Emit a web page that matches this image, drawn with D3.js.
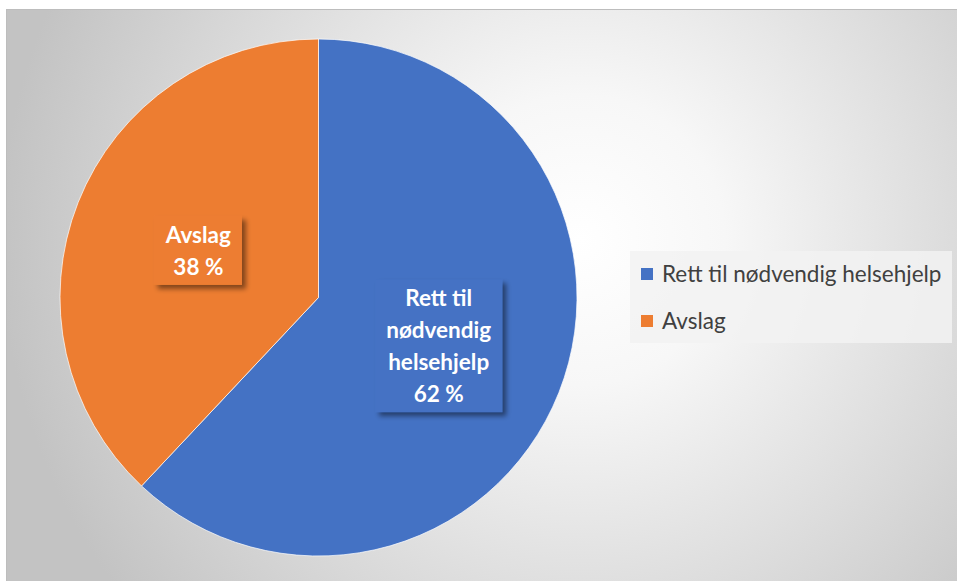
<!DOCTYPE html>
<html>
<head>
<meta charset="utf-8">
<script src="https://cdn.jsdelivr.net/npm/d3@7"></script>
<style>
  html, body { margin: 0; padding: 0; background: #ffffff; }
  svg { display: block; }
</style>
</head>
<body>
<svg id="chart" width="957" height="581"></svg>
<script>
const categories = ["Rett til nødvendig helsehjelp", "Avslag"];
const labelLines = [["Rett til", "nødvendig", "helsehjelp"], ["Avslag"]];
const values = [62, 38];
const colors = ["#4472C4", "#ED7D31"];

const W = 957, H = 581;
const svg = d3.select("#chart");
const defs = svg.append("defs");

const grad = defs.append("radialGradient")
  .attr("id", "bg").attr("gradientUnits", "userSpaceOnUse")
  .attr("cx", 580).attr("cy", 240).attr("r", 580);
grad.append("stop").attr("offset", "0").attr("stop-color", "#ffffff");
grad.append("stop").attr("offset", "0.25").attr("stop-color", "#f7f7f7");
grad.append("stop").attr("offset", "1").attr("stop-color", "#c3c3c3");

const shadow = defs.append("filter").attr("id", "shadow")
  .attr("x", "-20%").attr("y", "-20%").attr("width", "150%").attr("height", "150%");
shadow.append("feDropShadow").attr("dx", 4).attr("dy", 4).attr("stdDeviation", 2.5)
  .attr("flood-color", "#000").attr("flood-opacity", 0.45);

// chart area
svg.append("rect").attr("x", 6).attr("y", 9).attr("width", W - 6).attr("height", H - 9)
  .attr("fill", "url(#bg)");
svg.append("line").attr("x1", 6).attr("x2", W).attr("y1", 9.5).attr("y2", 9.5)
  .attr("stroke", "#bdbdbd").attr("stroke-width", 1);
svg.append("line").attr("x1", 6.5).attr("x2", 6.5).attr("y1", 9).attr("y2", H)
  .attr("stroke", "#bdbdbd").attr("stroke-width", 1);

const cx = 318.5, cy = 297.5, R = 258.5;
const pie = d3.pie().sort(null).value(d => d);
const arcs = pie(values);
const arc = d3.arc().innerRadius(0).outerRadius(R);

const g = svg.append("g").attr("transform", `translate(${cx},${cy})`);
g.selectAll("path.slice").data(arcs).join("path")
  .attr("class", "slice")
  .attr("d", arc)
  .attr("fill", (d, i) => colors[i])
  .attr("stroke", "#ffffff").attr("stroke-width", 0.7);

// data labels
const font = "Lato, 'Open Sans', sans-serif";
const lineH = 32;
arcs.forEach((d, i) => {
  const [lx, ly] = arc.centroid(d);
  const lines = labelLines[i].concat([d3.format("d")(values[i]) + " %"]);
  const lg = g.append("g").attr("transform", `translate(${lx},${ly})`);
  const txt = lg.append("text")
    .attr("text-anchor", "middle")
    .attr("fill", "#ffffff")
    .attr("font-family", font)
    .attr("font-weight", "bold")
    .attr("font-size", 22.5);
  const n = lines.length;
  lines.forEach((t, k) => {
    txt.append("tspan").attr("x", 0)
      .attr("y", (k - (n - 1) / 2) * lineH + 9)
      .text(t);
  });
  const bb = txt.node().getBBox();
  const padX = 11, padY = 5;
  lg.insert("rect", "text")
    .attr("x", bb.x - padX).attr("y", bb.y - padY)
    .attr("width", bb.width + 2 * padX).attr("height", bb.height + 2 * padY)
    .attr("fill", colors[i])
    .attr("filter", "url(#shadow)");
});

// legend
const legend = svg.append("g");
legend.append("rect").attr("x", 630).attr("y", 251).attr("width", 322).attr("height", 92)
  .attr("fill", "#f2f2f2").attr("fill-opacity", 0.85);
const legendY = d3.scalePoint().domain(categories).range([274, 321]);
categories.forEach((c, i) => {
  const y = legendY(c);
  legend.append("rect").attr("x", 641).attr("y", y - 6).attr("width", 12).attr("height", 12)
    .attr("fill", colors[i]);
  legend.append("text").attr("x", 662).attr("y", y + 8)
    .attr("font-family", font).attr("font-size", 22.5).attr("fill", "#404040")
    .text(c);
});
</script>
</body>
</html>
